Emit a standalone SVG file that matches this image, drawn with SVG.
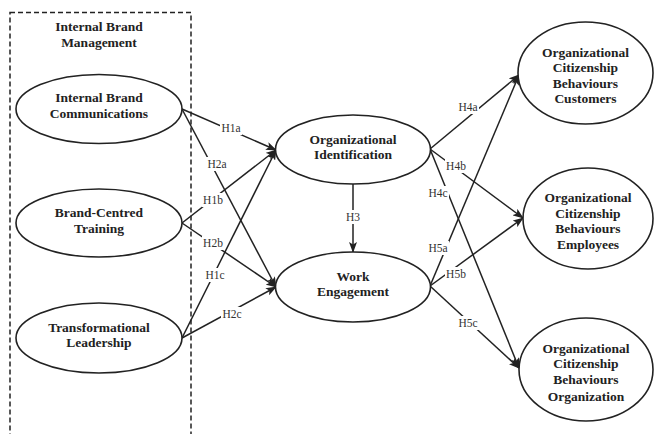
<svg xmlns="http://www.w3.org/2000/svg" width="654" height="434" viewBox="0 0 654 434">
<style>
.n{fill:#fff;stroke:#222;stroke-width:1.6}
.t{font-family:"Liberation Serif","Times New Roman",serif;font-weight:bold;font-size:13.5px;fill:#222;text-anchor:middle}
.c{stroke:#222;stroke-width:1.5;fill:none;marker-end:url(#ah)}
.lb{fill:#fff}
.l{font-family:"Liberation Serif","Times New Roman",serif;font-size:11.5px;fill:#333;text-anchor:middle}
</style>
<defs>
<marker id="ah" markerUnits="userSpaceOnUse" markerWidth="11" markerHeight="8" refX="10" refY="4" orient="auto">
<path d="M0,0 L11,4 L0,8 L2.5,4 z" fill="#222"/>
</marker>
</defs>
<rect width="654" height="434" fill="#fff"/>
<g id="internal-brand-management">
<rect x="10" y="12.5" width="181" height="440" fill="none" stroke="#222" stroke-width="1.5" stroke-dasharray="5,3"/>
<text class="t" x="99" y="31">Internal Brand</text>
<text class="t" x="99" y="47">Management</text>
</g>
<g id="connectors">
<line class="c" x1="182" y1="109" x2="276" y2="150"/>
<line class="c" x1="182" y1="109" x2="276" y2="287"/>
<line class="c" x1="182" y1="223" x2="276" y2="150"/>
<line class="c" x1="182" y1="223" x2="276" y2="287"/>
<line class="c" x1="182" y1="338" x2="276" y2="150"/>
<line class="c" x1="182" y1="338" x2="276" y2="287"/>
<line class="c" x1="353" y1="184" x2="353" y2="252"/>
<line class="c" x1="430" y1="149" x2="519" y2="75"/>
<line class="c" x1="430" y1="149" x2="523" y2="218"/>
<line class="c" x1="430" y1="149" x2="519" y2="368"/>
<line class="c" x1="430" y1="286" x2="519" y2="75"/>
<line class="c" x1="430" y1="286" x2="523" y2="218"/>
<line class="c" x1="430" y1="286" x2="519" y2="368"/>
<g>
<rect class="lb" x="220" y="121" width="22" height="14"/><text class="l" x="231" y="132">H1a</text>
<rect class="lb" x="206" y="157" width="22" height="14"/><text class="l" x="217" y="168">H2a</text>
<rect class="lb" x="202" y="193" width="22" height="14"/><text class="l" x="213" y="204">H1b</text>
<rect class="lb" x="202" y="236" width="22" height="14"/><text class="l" x="213" y="247">H2b</text>
<rect class="lb" x="204" y="268" width="22" height="14"/><text class="l" x="215" y="279">H1c</text>
<rect class="lb" x="221" y="307" width="22" height="14"/><text class="l" x="232" y="318">H2c</text>
<rect class="lb" x="344" y="210" width="18" height="14"/><text class="l" x="353" y="221">H3</text>
<rect class="lb" x="457" y="100" width="22" height="14"/><text class="l" x="468" y="111">H4a</text>
<rect class="lb" x="445" y="159" width="22" height="14"/><text class="l" x="456" y="170">H4b</text>
<rect class="lb" x="427" y="186" width="22" height="14"/><text class="l" x="438" y="197">H4c</text>
<rect class="lb" x="427" y="241" width="22" height="14"/><text class="l" x="438" y="252">H5a</text>
<rect class="lb" x="445" y="267" width="22" height="14"/><text class="l" x="456" y="278">H5b</text>
<rect class="lb" x="457" y="316" width="22" height="14"/><text class="l" x="468" y="327">H5c</text>
</g>
</g>
<g id="ibc">
<ellipse class="n" cx="99" cy="109" rx="83" ry="34.5"/>
<text class="t" x="99" y="102">Internal Brand</text>
<text class="t" x="99" y="118">Communications</text>
</g>
<g id="bct">
<ellipse class="n" cx="99" cy="223" rx="83" ry="34"/>
<text class="t" x="99" y="217">Brand-Centred</text>
<text class="t" x="99" y="233">Training</text>
</g>
<g id="tl">
<ellipse class="n" cx="99" cy="338" rx="83" ry="35"/>
<text class="t" x="99" y="332">Transformational</text>
<text class="t" x="99" y="347">Leadership</text>
</g>
<g id="oi">
<ellipse class="n" cx="353" cy="149.5" rx="77.5" ry="34.5"/>
<text class="t" x="353" y="144">Organizational</text>
<text class="t" x="353" y="159">Identification</text>
</g>
<g id="we">
<ellipse class="n" cx="353" cy="287" rx="77.5" ry="35"/>
<text class="t" x="353" y="281">Work</text>
<text class="t" x="353" y="296">Engagement</text>
</g>
<g id="ocbc">
<ellipse class="n" cx="585.5" cy="73" rx="67.5" ry="51"/>
<text class="t" x="585.5" y="57">Organizational</text>
<text class="t" x="585.5" y="72">Citizenship</text>
<text class="t" x="585.5" y="88">Behaviours</text>
<text class="t" x="585.5" y="103">Customers</text>
</g>
<g id="ocbe">
<ellipse class="n" cx="588" cy="218.5" rx="65" ry="50.5"/>
<text class="t" x="588" y="202">Organizational</text>
<text class="t" x="588" y="218">Citizenship</text>
<text class="t" x="588" y="233">Behaviours</text>
<text class="t" x="588" y="249">Employees</text>
</g>
<g id="ocbo">
<ellipse class="n" cx="586" cy="369.5" rx="67" ry="51.5"/>
<text class="t" x="586" y="353">Organizational</text>
<text class="t" x="586" y="368">Citizenship</text>
<text class="t" x="586" y="384">Behaviours</text>
<text class="t" x="586" y="401">Organization</text>
</g>
</svg>
